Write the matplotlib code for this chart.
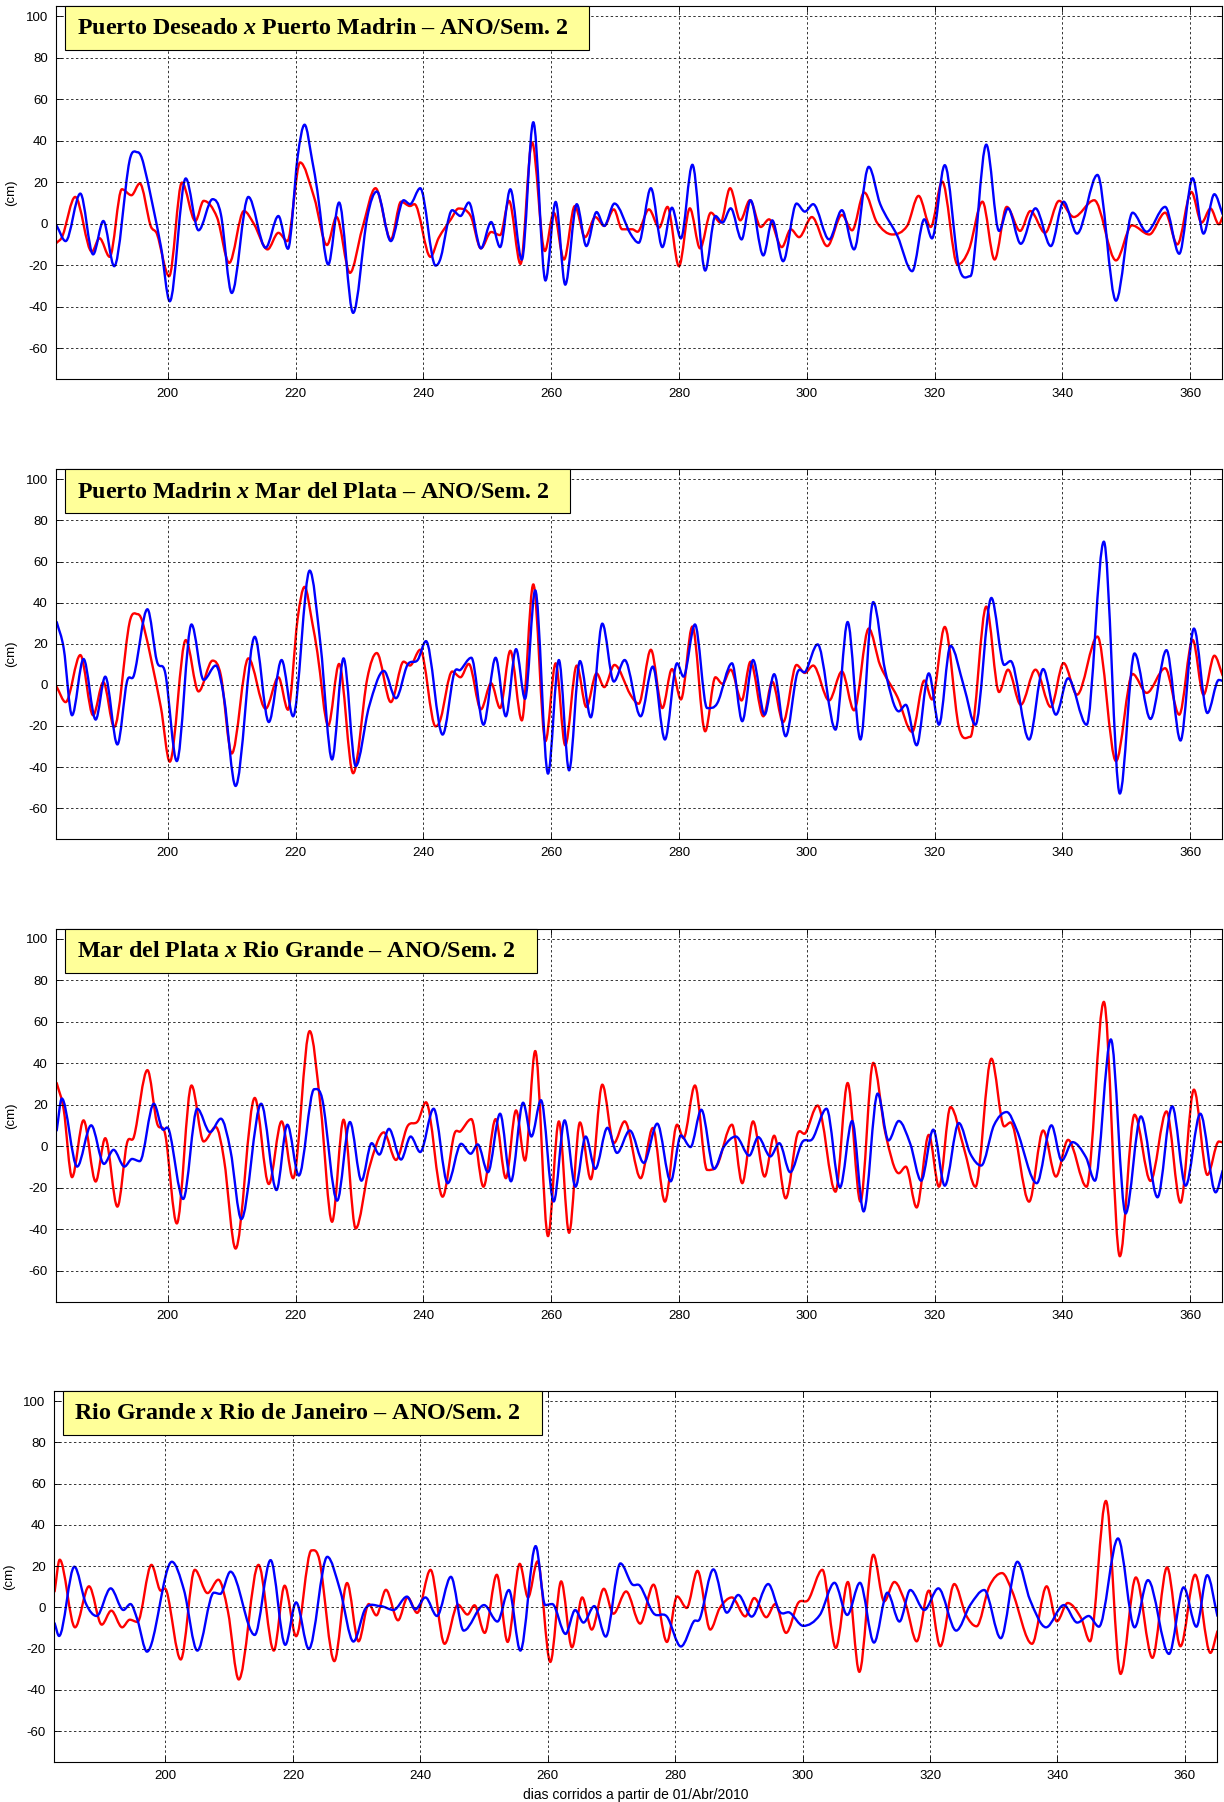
import matplotlib
matplotlib.use("Agg")
import matplotlib.pyplot as plt
from matplotlib.path import Path
from matplotlib.patches import PathPatch, Rectangle

# === Daten (Tage, Werte in cm) pro Station ===
deseado_dias = [182.6, 183.5, 185.5, 188.1, 189.3, 190.9, 192.8, 194.3, 195.6, 197.3, 198.3, 200.2, 202.2,
                204.3, 205.6, 207.7, 209.6, 211.9, 213.5, 215.6, 217.3, 218.7, 220.7, 222.9, 224.9, 226.4,
                228.5, 230.4, 232.5, 234.9, 236.5, 237.9, 238.6, 241.1, 242.4, 244.3, 245.5, 247.4, 249.0,
                250.6, 252.0, 253.4, 255.2, 257.0, 259.0, 260.4, 262.0, 263.7, 265.3, 266.9, 268.3, 269.8,
                271.1, 272.7, 273.5, 275.3, 276.9, 278.2, 280.0, 281.7, 283.3, 285.0, 286.5, 288.0, 289.6,
                291.1, 292.8, 294.1, 296.1, 297.5, 298.8, 300.8, 303.2, 305.5, 307.1, 309.0, 311.0, 313.4,
                315.7, 317.5, 319.4, 321.2, 323.6, 325.4, 327.5, 329.4, 331.3, 333.4, 335.0, 337.3, 339.5,
                341.8, 345.0, 348.4, 350.9, 353.6, 356.1, 358.0, 360.2, 361.8, 363.2, 364.5, 365.1]
deseado_cm = [-9.2, -6, 12.9, -13.5, -7, -16, 16.6, 13.7, 19.4, -1, -5, -25.3, 19.8,
              1.3, 11, 3, -18.9, 6.1, -0.3, -12.4, -4.4, -8.4, 29.5, 12.6, -10.3, 3.2,
              -23.7, -2.7, 17.1, -7.6, 10.6, 8.5, 9.4, -16, -6.8, 2.1, 7.3, 3.7, -11.9,
              -4, -5.5, 11, -19.4, 39.2, -13.2, 5.3, -17.3, 8.5, -6.5, 3.2, -1.1, 6.9,
              -2.7, -2.7, -3.9, 6.9, -1.9, 8.1, -20.5, 7.4, -11.9, 5.3, 0.5, 17.1, 1.6,
              11.3, -1.6, 2.1, -11.3, -2.7, -6.5, 3.2, -10.8, 4.2, -3.2, 15, 0.5, -5.2,
              -1.1, 13.4, -1.6, 20.3, -19.7, -12.4, 10.6, -17.3, 8.1, -3.5, 6.1, -4.4, 11,
              3.2, 11.3, -17.7, -0.8, -5.2, 5.3, -10, 15.3, 0.5, 7.3, -0.3, 3.2]

madrin_dias = [182.6, 184.0, 186.3, 188.3, 189.9, 191.6, 194.0, 195.3, 196.2, 198.9, 200.3, 202.8, 204.8,
               207.0, 208.3, 210.0, 212.6, 215.3, 217.3, 218.8, 220.3, 221.4, 222.6, 223.4, 225.1, 226.8,
               229.0, 231.2, 232.7, 234.9, 236.9, 237.9, 239.5, 241.9, 242.7, 244.5, 245.8, 247.1, 249.0,
               250.6, 252.0, 253.6, 255.4, 257.2, 259.1, 260.7, 262.2, 264.0, 265.5, 267.1, 268.3, 269.9,
               272.4, 273.7, 275.6, 277.4, 278.9, 280.3, 282.1, 284.1, 285.7, 286.8, 288.1, 289.8, 291.2,
               293.2, 294.6, 296.3, 298.4, 299.7, 301.0, 303.5, 305.5, 307.4, 309.7, 311.5, 314.2, 316.5,
               318.4, 319.6, 321.6, 323.8, 325.6, 328.1, 330.1, 331.5, 333.5, 335.8, 338.2, 340.2, 342.3,
               345.5, 348.4, 351.0, 353.2, 356.1, 358.3, 360.4, 362.1, 363.8, 365.1]
madrin_cm = [-1, -8.4, 14.5, -14.8, 1.3, -20.5, 30.3, 34.4, 28.7, -10.8, -37.4, 21.8, -3.2,
             11.8, 4.5, -33.4, 12.9, -11.6, 3.7, -12.1, 31.9, 47.7, 30.3, 15.8, -19.7, 10.2,
             -43, 2.9, 15.5, -8.4, 11.3, 9.4, 17.1, -20.2, -16.5, 6.5, 3.7, 10.2, -11.9,
             0.8, -11.3, 16.6, -17.3, 48.9, -27.4, 10.5, -29.4, 9.4, -10.8, 5.6, -1.1, 9.7,
             -4.8, -9.2, 17.1, -11.3, 7.7, -7.1, 28.4, -22.6, 3.7, 0.5, 7.4, -7.6, 11.3,
             -15.3, 1.6, -18.1, 9.7, 5.8, 9.4, -7.6, 6.5, -12.4, 27.4, 9.4, -6, -22.9,
             2.1, -7.1, 28.2, -20.5, -25.3, 38.1, -3.5, 7.4, -9.7, 7.4, -10.8, 10.6, -4.8,
             23.5, -37.1, 5.3, -3.9, 8.1, -14.5, 21.9, -4.8, 14.2, 4.5]

mardelplata_dias = [182.6, 183.7, 185.0, 186.8, 188.7, 190.2, 192.1, 193.6, 194.7, 196.8, 198.3, 199.6, 201.4,
                    203.7, 205.6, 207.5, 208.8, 210.6, 213.6, 215.8, 217.8, 219.6, 222.2, 223.9, 225.7, 227.5,
                    229.4, 231.5, 233.8, 235.7, 237.5, 239.1, 240.4, 243.0, 244.8, 245.8, 247.5, 249.4, 251.3,
                    252.9, 254.5, 255.9, 257.5, 259.5, 261.2, 262.8, 264.5, 266.2, 268.0, 269.8, 271.5, 274.0,
                    275.9, 277.8, 279.7, 280.7, 282.5, 284.4, 286.0, 288.3, 289.9, 291.6, 293.4, 294.9, 296.7,
                    298.5, 299.8, 301.7, 304.5, 306.4, 308.4, 310.4, 312.3, 314.4, 315.5, 317.2, 319.1, 320.7,
                    322.5, 324.6, 326.4, 328.9, 330.9, 331.9, 334.8, 337.0, 339.0, 340.9, 343.8, 346.5, 349.0,
                    351.3, 353.8, 356.3, 358.5, 360.6, 362.7, 364.5, 365.1]
mardelplata_cm = [30.6, 17.7, -14.8, 12.6, -16.9, 4, -29, 1.6, 4.8, 36.8, 11.3, 5.6, -37.1,
                  29.4, 2.4, 9.4, -6.5, -49.2, 23.4, -18.1, 12.1, -15.3, 55.6, 19.4, -36.3, 12.9,
                  -39.5, -10.5, 6.8, -6.5, 9.7, 12.1, 21.3, -24.2, 5.6, 7.3, 13.2, -19.4, 13.2,
                  -15.3, 17.4, -6.8, 46, -43.2, 12.1, -41.6, 11.6, -15.8, 29.8, 1.6, 12.1, -15.3,
                  8.9, -26.6, 10.5, 4, 29.4, -11.3, -8.9, 10.5, -17.7, 12.1, -14.5, 5.2, -25,
                  5.6, 6.5, 19.7, -21.8, 30.6, -26.6, 40.3, 6.5, -12.9, -9.7, -29.4, 5.6, -19.4,
                  19, -0.8, -19.4, 42.3, 9.7, 11.6, -26.6, 7.7, -14.5, 3.2, -19.4, 69.7, -52.9,
                  15.3, -16.6, 16.9, -27.1, 27.4, -13.7, 2.4, 1.9]

riogrande_dias = [182.6, 183.4, 185.8, 188.0, 190.0, 191.5, 193.2, 194.4, 195.6, 197.8, 199.1, 200.2, 202.4,
                  204.6, 206.6, 208.3, 209.8, 211.5, 214.6, 217.0, 218.7, 220.5, 222.9, 224.2, 226.5, 228.5,
                  230.3, 231.9, 233.1, 234.6, 236.5, 238.0, 239.5, 241.6, 243.8, 245.9, 247.4, 248.5, 250.1,
                  252.0, 253.7, 255.6, 256.9, 258.4, 260.4, 262.1, 263.8, 265.4, 266.9, 268.8, 270.3, 272.3,
                  274.5, 276.6, 278.7, 280.3, 281.8, 283.5, 285.5, 287.0, 288.9, 291.0, 292.4, 294.3, 295.7,
                  297.4, 299.3, 300.9, 303.1, 305.2, 307.1, 308.9, 311.1, 312.8, 314.4, 316.2, 317.9, 319.8,
                  321.6, 323.8, 325.6, 327.3, 329.3, 331.3, 332.9, 336.0, 338.3, 339.9, 341.6, 343.7, 345.1,
                  347.6, 349.9, 352.3, 354.9, 357.2, 359.3, 361.6, 364.0, 365.1]
riogrande_cm = [7.7, 23.1, -9.7, 10.2, -8.4, -1.6, -9.7, -6, -7.1, 20.6, 8.5, 7.7, -25.3,
                18.2, 6.9, 13.4, -1.9, -35, 20.6, -21, 10.5, -14, 27.6, 22.3, -26.1, 11.8,
                -16.5, 1.6, -3.9, 8.5, -6.3, 4.8, -2.7, 18.2, -17.7, 1.3, -3.5, 1, -12.4,
                15.8, -16.8, 21.1, 4.8, 22.3, -26.5, 12.6, -19.4, 4.8, -10.8, 9, -3.1, 7.7,
                -7.9, 11, -16.8, 5.3, -0.3, 17.7, -10.8, -0.3, 4.8, -4.4, 4.5, -4.8, 1.6,
                -12.4, 2.1, 3.7, 18.2, -19.7, 12.3, -31.3, 25.5, 2.9, 12.3, 1.3, -16.5, 8.1,
                -18.9, 11.3, -3.5, -9.2, 10.2, 16.6, 7.7, -17.7, 10.2, -6.8, 2.1, -5.2, -16.5,
                51.6, -32.3, 14.5, -24.5, 19.4, -18.9, 15.8, -22.1, -11.6]

riodejaneiro_dias = [182.6, 183.3, 185.7, 187.5, 189.2, 191.4, 193.4, 194.5, 195.6, 197.1, 201.0, 202.9, 205.0,
                     207.6, 208.6, 210.2, 214.0, 216.5, 218.8, 220.5, 222.5, 225.4, 227.4, 229.5, 231.4, 233.7,
                     235.8, 237.9, 239.2, 240.8, 242.6, 244.8, 246.8, 250.0, 252.1, 253.9, 255.7, 258.1, 259.6,
                     260.7, 262.8, 264.3, 265.6, 267.3, 269.1, 271.4, 273.2, 274.5, 276.6, 278.7, 280.9, 282.9,
                     283.9, 286.0, 288.1, 289.9, 292.0, 294.6, 296.4, 298.0, 300.1, 302.7, 305.0, 307.0, 309.0,
                     311.2, 313.3, 315.2, 316.9, 319.1, 321.3, 324.1, 326.3, 328.5, 331.1, 333.7, 335.7, 338.2,
                     341.0, 343.1, 344.9, 346.5, 349.5, 352.1, 354.2, 357.5, 359.8, 361.8, 363.5, 365.1]
riodejaneiro_cm = [-7.7, -13.9, 19.7, 1.9, -4.2, 9.2, -1.3, 1.6, -6.1, -21.5, 22.1, 8.4, -21,
                   7.1, 6.5, 17.3, -13.4, 22.9, -18.2, 2.4, -20.2, 24.5, 8.4, -16.6, -0.5, 0.6,
                   -1.3, 5.2, -1, 4.8, -4.2, 14.8, -11.3, 1.1, -6.9, 8.4, -21, 29.7, 1.1,
                   1.6, -12.9, -1.3, -7.4, 0.6, -14.2, 21.3, 11.3, 10.3, -2.9, -4.5, -19, -6.9,
                   -5.3, 18.4, -2.6, 6, -4.5, 11.3, -2.1, -2.6, -9, -3.7, 11.9, -3.7, 11.9,
                   -17.1, 7.1, -6.9, 8.4, -1.3, 9.2, -11.3, 1.1, 8.4, -15, 22.1, 3.5, -9.7,
                   1.1, -7.4, -4.2, -9.4, 33.4, -9.7, 13.2, -22.6, 9.7, -9.4, 15.6, -4.2]

stationen = ["Puerto Deseado", "Puerto Madrin", "Mar del Plata", "Rio Grande", "Rio de Janeiro"]
daten = [(deseado_dias, deseado_cm), (madrin_dias, madrin_cm), (mardelplata_dias, mardelplata_cm),
         (riogrande_dias, riogrande_cm), (riodejaneiro_dias, riodejaneiro_cm)]

x_ticks = [200, 220, 240, 260, 280, 300, 320, 340, 360]
y_ticks = [-60, -40, -20, 0, 20, 40, 60, 80, 100]


def kurve(ax, x, y, farbe):
    n = len(x)
    m = []
    for k in range(n):
        if k == 0:
            m.append((y[1] - y[0]) / (x[1] - x[0]))
        elif k == n - 1:
            m.append((y[k] - y[k - 1]) / (x[k] - x[k - 1]))
        elif (y[k] - y[k - 1]) * (y[k + 1] - y[k]) <= 0:
            m.append(0.0)
        else:
            m.append((y[k + 1] - y[k - 1]) / (x[k + 1] - x[k - 1]))
    verts = [(x[0], y[0])]
    codes = [Path.MOVETO]
    for k in range(n - 1):
        h = x[k + 1] - x[k]
        verts += [(x[k] + h / 3, y[k] + m[k] * h / 3),
                  (x[k + 1] - h / 3, y[k + 1] - m[k + 1] * h / 3),
                  (x[k + 1], y[k + 1])]
        codes += [Path.CURVE4] * 3
    ax.add_patch(PathPatch(Path(verts, codes), fill=False, edgecolor=farbe,
                           linewidth=1.7, joinstyle="round", capstyle="round"))


# === Layout ===
plt.rcParams["axes.unicode_minus"] = False
plt.rcParams["mathtext.fontset"] = "custom"
plt.rcParams["mathtext.it"] = "Liberation Serif:bold:italic"
plt.rcParams["mathtext.rm"] = "Liberation Serif:bold"

W, H = 1224, 1802
fig = plt.figure(figsize=(W / 100, H / 100), dpi=100)
# [links, unten, breite, hoehe] in Figurenanteilen
positionen = [[0.0458, 0.7895, 0.9526, 0.2073],
              [0.0458, 0.5344, 0.9526, 0.2053],
              [0.0458, 0.2774, 0.9526, 0.2073],
              [0.0441, 0.0222, 0.9500, 0.2060]]

titel_texte = []
for i, pos in enumerate(positionen):
    ax = fig.add_axes(pos)
    d1, v1 = daten[i]
    d2, v2 = daten[i + 1]
    kurve(ax, d1, v1, "red")
    kurve(ax, d2, v2, "blue")

    ax.set_xlim(182.5, 365)
    ax.set_ylim(-75, 105)
    ax.set_xticks(x_ticks)
    ax.set_yticks(y_ticks)
    ax.grid(True, color="black", linestyle=(0, (2.5, 2.5)), linewidth=0.7, alpha=0.8)
    ax.tick_params(direction="in", top=True, right=True, length=4, width=0.6,
                   labelsize=9.5, pad=6)
    for lab in ax.get_xticklabels() + ax.get_yticklabels():
        lab.set_family("Liberation Sans")
    for sp in ax.spines.values():
        sp.set_linewidth(0.8)
    ax.set_ylabel("(cm)", fontsize=9.5, family="Liberation Sans", labelpad=6)

    titel = stationen[i] + r" $x$ " + stationen[i + 1] + " – ANO/Sem. 2"
    t = ax.annotate(titel, xy=(0, 1), xycoords="axes fraction",
                    xytext=(20.5, -23), textcoords="offset pixels",
                    ha="left", va="center", fontsize=17.3, fontweight="bold",
                    family="Liberation Serif", zorder=6)
    titel_texte.append((ax, t))

    if i == 3:
        ax.set_xlabel("dias corridos a partir de 01/Abr/2010", fontsize=10,
                      family="Liberation Sans", labelpad=4)

# gelbe Titelkaesten nach der Textbreite
fig.canvas.draw()
r = fig.canvas.get_renderer()
for ax, t in titel_texte:
    bb = t.get_window_extent(r)
    abb = ax.get_window_extent(r)
    x0 = abb.x0 + 9
    x1 = bb.x1 + 21
    y1 = abb.y1
    y0 = y1 - 44
    ax.add_patch(Rectangle((x0 / W, y0 / H), (x1 - x0) / W, (y1 - y0) / H,
                           transform=fig.transFigure, facecolor="#ffff99",
                           edgecolor="black", linewidth=0.8, zorder=5, clip_on=False))

fig.savefig("out.png", dpi=100)
